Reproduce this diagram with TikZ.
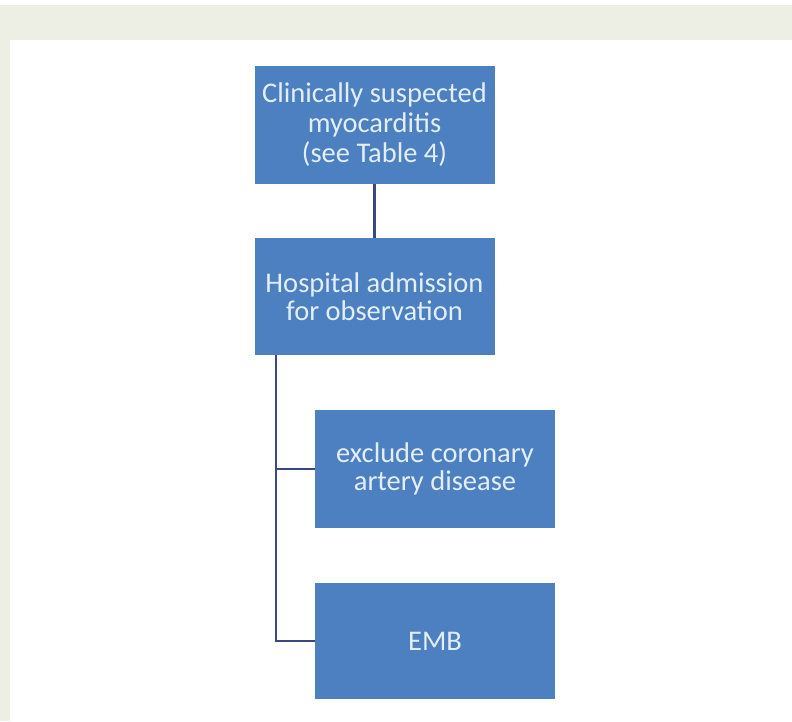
\documentclass[tikz,border=0pt]{standalone}
\usepackage{fontspec}
\setmainfont{Carlito}
\definecolor{boxblue}{HTML}{4C80C1}
\definecolor{linenavy}{HTML}{3A4A7E}
\definecolor{paper}{HTML}{EEEFE4}
\definecolor{txt}{HTML}{E4EEF8}
\begin{document}
\begin{tikzpicture}[x=1pt,y=-1pt,
  flowbox/.style={fill=boxblue, draw=none, text=txt, align=center,
    font=\fontsize{28.5}{28}\selectfont, inner sep=0pt},
  link/.style={draw=linenavy, line width=2.8pt}]
\useasboundingbox (0,0) rectangle (792,721);
\fill[white] (0,0) rectangle (792,721);
\fill[paper] (0,5) rectangle (792,40);
\fill[paper] (0,5) rectangle (10,721);
\node[flowbox, minimum width=240pt, minimum height=118pt] (a) at (374.5,125)
  {Clinically suspected\\[2pt]myocarditis\\[2pt](see Table 4)};
\node[flowbox, minimum width=240pt, minimum height=117pt] (b) at (374.5,296.5)
  {Hospital admission\\for observation};
\node[flowbox, minimum width=240pt, minimum height=118pt] (c) at (435,469)
  {exclude coronary\\artery disease};
\node[flowbox, minimum width=240pt, minimum height=116pt] (d) at (435,641)
  {EMB};
\coordinate (t) at ([xshift=-98.5pt]b.south);
\draw[link] (a.south) -- (b.north);
\draw[link] (t) |- (d.west);
\draw[link] (t |- c.west) -- (c.west);
\end{tikzpicture}
\end{document}
